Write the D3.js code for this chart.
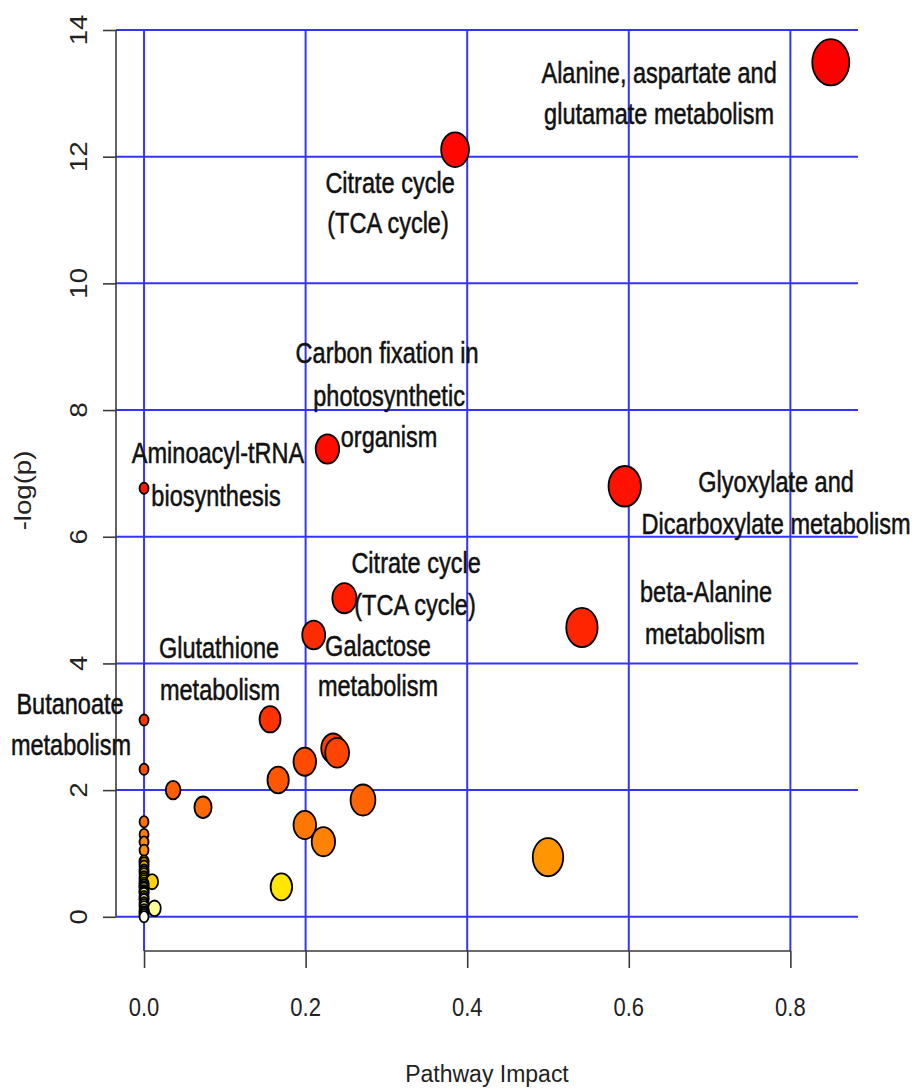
<!DOCTYPE html>
<html>
<head>
<meta charset="utf-8">
<script src="https://cdn.jsdelivr.net/npm/d3@7"></script>
<style>
  html, body { margin: 0; padding: 0; background: #fff; }
  svg { display: block; }
</style>
</head>
<body>
<div id="chart"></div>
<script>
// ---------------- data ----------------
const xTicks = [0.0, 0.2, 0.4, 0.6, 0.8];
const yTicks = [0, 2, 4, 6, 8, 10, 12, 14];
const xTitle = "Pathway Impact";
const yTitle = "-log(p)";

// pathway impact (x) and -log(p) (y), one entry per pathway
const pathwayImpact = [
  0.850, 0.385, 0.227, 0.595, 0.248, 0.542, 0.210, 0.156,
  0.234, 0.239, 0.199, 0.166, 0.036, 0.271, 0.073, 0.199,
  0.222, 0.500, 0.010, 0.170, 0.013,
  0, 0, 0, 0, 0, 0, 0, 0, 0, 0, 0, 0, 0, 0, 0, 0, 0, 0, 0, 0, 0, 0, 0, 0,
  0, 0, 0, 0, 0, 0, 0, 0, 0, 0
];
const negLogP = [
  13.49, 12.11, 7.385, 6.797, 5.03, 4.567, 4.449, 3.118,
  2.66, 2.59, 2.449, 2.16, 2.00, 1.844, 1.729, 1.449,
  1.186, 0.941, 0.554, 0.473, 0.134,
  6.765, 3.107, 2.329, 1.50, 1.30, 1.18, 1.05, 0.88, 0.80, 0.74, 0.68,
  0.63, 0.57, 0.50, 0.45, 0.41, 0.37, 0.32, 0.27, 0.22, 0.16, 0.11, 0.055, 0.0,
  0.85, 0.71, 0.60, 0.53, 0.47, 0.39, 0.29, 0.19, 0.08, 0.03
];

// annotation lines (text, anchor in data units: impact, -log(p) at baseline)
const labelText = [
  "Alanine, aspartate and", "glutamate metabolism",
  "Citrate cycle", "(TCA cycle)",
  "Carbon fixation in", "photosynthetic", "organism",
  "Aminoacyl-tRNA", "biosynthesis",
  "Glyoxylate and", "Dicarboxylate metabolism",
  "Citrate cycle", "(TCA cycle)",
  "beta-Alanine", "metabolism",
  "Glutathione", "metabolism",
  "Galactose", "metabolism",
  "Butanoate", "metabolism"
];
const labelX = [
  0.6375, 0.6375,
  0.3045, 0.302,
  0.3008, 0.3033, 0.3033,
  0.0916, 0.0891,
  0.7823, 0.7823,
  0.3367, 0.3354,
  0.6956, 0.6944,
  0.0928, 0.0941,
  0.2896, 0.2896,
  -0.0916, -0.0904
];
const labelY = [
  13.17, 12.52,
  11.42, 10.80,
  8.735, 8.07, 7.41,
  7.157, 6.478,
  6.70, 6.05,
  5.42, 4.77,
  4.962, 4.30,
  4.078, 3.43,
  4.125, 3.478,
  3.194, 2.547
];

// ---------------- layout ----------------
const W = 915, H = 1088;
const STRETCH = 1.25; // vertical stretch of the picture (circles are taller than wide)

const x = d3.scaleLinear().domain([-0.0347, 0.8837]).range([116, 858]);
const y = d3.scaleLinear().domain([-0.54, 14]).range([951, 30]);
const rx = d3.scaleSqrt().domain([0, 0.85]).range([4.5, 18.5]);

// R heat.colors(n)
function heatColors(n) {
  const j = Math.floor(n / 4), i = n - j, out = [];
  for (let k = 0; k < i; k++) {
    const h = i > 1 ? (k / (i - 1)) * 60 : 0;
    out.push(d3.hsl(h, 1, 0.5).formatHex());
  }
  for (let k = 0; k < j; k++) {
    const s = j > 1 ? (1 - 1 / (2 * j)) + k * ((1 / (2 * j)) - (1 - 1 / (2 * j))) / (j - 1) : 0.5;
    out.push(d3.rgb(255, 255, Math.round(255 * (1 - s))).formatHex());
  }
  return out;
}

const points = pathwayImpact.map((v, i) => ({ impact: v, p: negLogP[i] }));
const order = d3.range(points.length).sort((a, b) => points[b].p - points[a].p);
const palette = heatColors(points.length);
order.forEach((idx, rank) => { points[idx].color = palette[rank]; });
const drawOrder = order.map(i => points[i]);

const svg = d3.select("#chart").append("svg")
  .attr("width", W).attr("height", H)
  .style("background", "#fff");

const [px0, px1] = x.range();
const [py0, py1] = y.range(); // bottom, top

// grid
const grid = svg.append("g").attr("stroke", "#1f1fff").attr("stroke-width", 2).attr("opacity", 0.9);
grid.selectAll("line.h").data(yTicks).join("line").attr("class", "h")
  .attr("x1", px0).attr("x2", px1)
  .attr("y1", d => y(d)).attr("y2", d => y(d));
grid.selectAll("line.v").data(xTicks).join("line").attr("class", "v")
  .attr("x1", d => x(d)).attr("x2", d => x(d))
  .attr("y1", py1).attr("y2", py0);

// axes
const axisCol = "#3a3a3a";
const yAxisG = svg.append("g").attr("transform", `translate(${px0},0)`)
  .call(d3.axisLeft(y).tickValues(yTicks).tickSize(13).tickFormat(""));
yAxisG.select(".domain").attr("d", `M0,${y(0)}V${y(14)}`);
const xAxisG = svg.append("g").attr("transform", `translate(0,${py0})`)
  .call(d3.axisBottom(x).tickValues(xTicks).tickSize(17).tickFormat(""));
xAxisG.select(".domain").attr("d", `M${x(0)},0H${x(0.8)}`);
svg.selectAll(".domain, .tick line").attr("stroke", axisCol).attr("stroke-width", 1.6);

// tick labels
svg.append("g").selectAll("text").data(xTicks).join("text")
  .attr("transform", d => `translate(${x(d)},1016) scale(1,1.15)`)
  .attr("text-anchor", "middle")
  .style("font-family", "'Liberation Sans', Arial, sans-serif")
  .style("font-size", "22px").attr("fill", "#222")
  .text(d => d.toFixed(1));
svg.append("g").selectAll("text").data(yTicks).join("text")
  .attr("transform", d => `translate(87,${y(d)}) scale(1,1.2) rotate(-90)`)
  .attr("text-anchor", "middle")
  .style("font-family", "'Liberation Sans', Arial, sans-serif")
  .style("font-size", "23px").attr("fill", "#222")
  .text(d => d);

// axis titles
svg.append("text")
  .attr("transform", `translate(${(px0 + px1) / 2},1082) scale(1,1.08)`)
  .attr("text-anchor", "middle")
  .style("font-family", "'Liberation Sans', Arial, sans-serif")
  .style("font-size", "23px").attr("fill", "#222")
  .text(xTitle);
svg.append("text")
  .attr("transform", `translate(31,${(py0 + py1) / 2}) scale(1,1.2) rotate(-90)`)
  .attr("text-anchor", "middle")
  .style("font-family", "'Liberation Sans', Arial, sans-serif")
  .style("font-size", "23px").attr("fill", "#222")
  .text(yTitle);

// points
svg.append("g").selectAll("ellipse").data(drawOrder).join("ellipse")
  .attr("cx", d => x(d.impact))
  .attr("cy", d => y(d.p))
  .attr("rx", d => rx(d.impact))
  .attr("ry", d => rx(d.impact) * STRETCH)
  .attr("fill", d => d.color)
  .attr("stroke", "#000")
  .attr("stroke-width", 1.8);

// annotations (condensed look: horizontally compressed sans)
svg.append("g").selectAll("text").data(labelText).join("text")
  .attr("transform", (d, i) => `translate(${x(labelX[i])},${y(labelY[i])}) scale(0.84,1.08)`)
  .attr("text-anchor", "middle")
  .style("font-family", "'Liberation Sans', Arial, sans-serif")
  .style("font-size", "28px").attr("fill", "#111")
  .attr("stroke", "#111").attr("stroke-width", 0.5)
  .text(d => d);
</script>
</body>
</html>
